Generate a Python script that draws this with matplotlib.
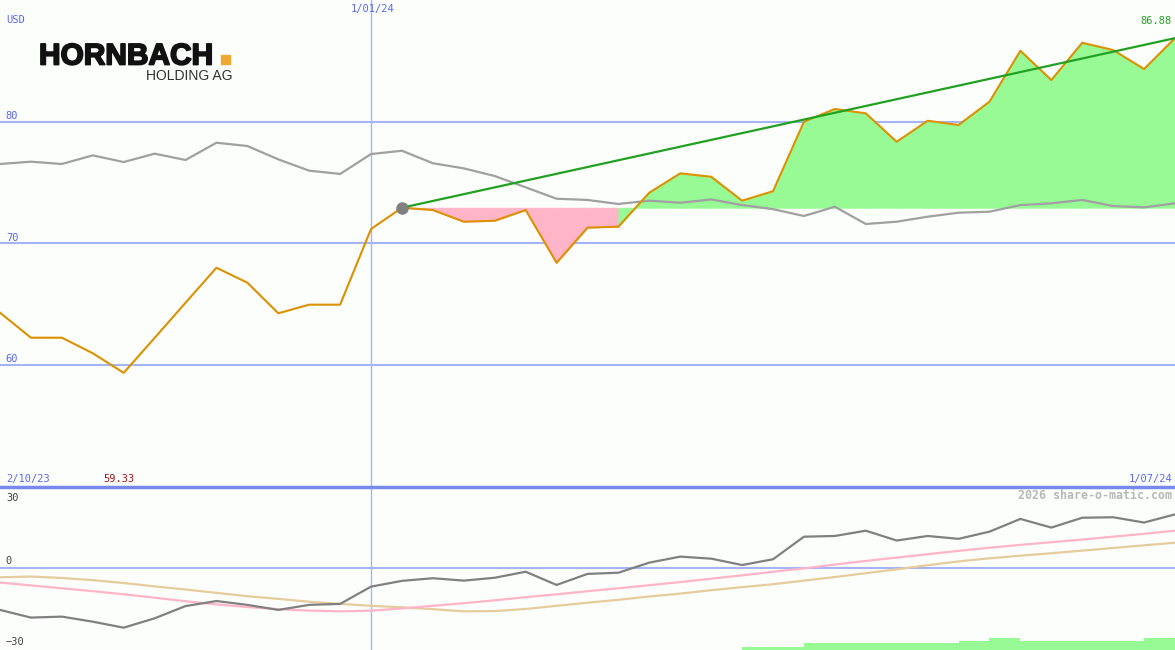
import matplotlib
matplotlib.use("Agg")
import matplotlib.pyplot as plt
import matplotlib.transforms as mtransforms
import matplotlib.patheffects as pe
import numpy as np

# ---------------- data ----------------
start_label = "2/10/23"
mid_label = "1/01/24"
end_label = "1/07/24"
currency = "USD"
min_label = "59.33"
max_label = "86.88"
watermark = "2026 share-o-matic.com"

price = [64.28, 62.22, 62.22, 60.94, 59.33, 62.2, 65.1, 67.98, 66.75, 64.23,
         64.94, 64.94, 71.17, 72.92, 72.73, 71.77, 71.85, 72.73, 68.39, 71.28,
         71.36, 74.16, 75.75, 75.47, 73.5, 74.28, 80.0, 81.05, 80.69, 78.35,
         80.08, 79.73, 81.65, 85.84, 83.43, 86.5, 85.9, 84.34, 86.88]

benchmark = [76.52, 76.71, 76.52, 77.23, 76.68, 77.37, 76.85, 78.27, 78.0, 76.9,
             75.97, 75.7, 77.34, 77.61, 76.58, 76.16, 75.53, 74.6, 73.66, 73.56,
             73.23, 73.5, 73.33, 73.6, 73.14, 72.8, 72.24, 73.0, 71.58, 71.77,
             72.18, 72.51, 72.59, 73.14, 73.28, 73.56, 73.06, 72.95, 73.28]

momentum = [-17.6, -20.8, -20.4, -22.5, -25.0, -21.1, -16.0, -13.9, -15.5, -17.6,
            -15.5, -15.1, -7.9, -5.5, -4.4, -5.4, -4.2, -1.7, -7.2, -2.6,
            -2.1, 2.1, 4.6, 3.75, 1.1, 3.5, 12.9, 13.2, 15.4, 11.3,
            13.2, 12.0, 15.0, 20.3, 16.7, 20.8, 21.0, 18.8, 22.2]

avg_fast = [-6.2, -7.4, -8.6, -9.8, -11.1, -12.5, -14.0, -15.3, -16.4, -17.3,
            -17.9, -18.2, -17.9, -17.0, -15.9, -14.8, -13.6, -12.3, -11.1, -9.8,
            -8.6, -7.3, -6.0, -4.6, -3.2, -1.7, -0.3, 1.3, 2.8, 4.2,
            5.6, 7.0, 8.3, 9.5, 10.6, 11.7, 12.9, 14.1, 15.4]

avg_slow = [-4.0, -3.7, -4.3, -5.2, -6.4, -7.8, -9.1, -10.5, -11.9, -13.0,
            -14.2, -15.1, -15.9, -16.5, -17.3, -18.2, -18.1, -17.2, -15.9, -14.6,
            -13.4, -12.0, -10.8, -9.4, -8.1, -6.9, -5.4, -3.9, -2.3, -0.7,
            1.0, 2.6, 3.9, 5.0, 6.0, 7.1, 8.2, 9.3, 10.4]

signal_idx = [24, 25, 26, 27, 28, 29, 30, 31, 32, 33, 34, 35, 36, 37]
signal_val = [1.25, 1.25, 2.9, 2.9, 2.9, 2.9, 2.9, 3.75, 5.0, 3.75, 3.75, 3.75, 3.75, 5.0]

price_ticks = [60, 70, 80]
osc_ticks = [30, 0, -30]
ref_index = 13      # start of trend line / fill baseline
mid_index = 12      # 1/01/24 vertical line

# ---------------- style ----------------
BG = "#fcfefc"
GRID = "#a4b4f4"
BORDER = "#7888ee"
TXT_BLUE = "#5868f0"
ORANGE = "#dd9000"
GRAY = "#a0a0a0"
DGRAY = "#808080"
PINK = "#ffb4c8"
TAN = "#e4cc9c"
GREEN_FILL = "#98fa94"
GREEN_LINE = "#22a022"
MONO = "DejaVu Sans Mono"

W, H = 1175, 650
fig = plt.figure(figsize=(W / 100, H / 100), dpi=100, facecolor=BG)

split = 487
ax = fig.add_axes([0, (H - split) / H, 1, split / H])
ax2 = fig.add_axes([0, 0, 1, (H - split) / H])
for a in (ax, ax2):
    a.set_facecolor(BG)
    a.axis("off")

x = np.arange(len(price))
ax.set_xlim(0, len(price) - 1)
ax2.set_xlim(0, len(price) - 1)
ax.set_ylim(49.93, 90.02)
ax2.set_ylim(-34.3, 33.6)

# gridlines
for t in price_ticks:
    ax.axhline(t, color=GRID, lw=1.5, zorder=1)
ax2.axhline(0, color=GRID, lw=1.5, zorder=1)
ax.axvline(mid_index, color=GRID, lw=1.0, zorder=1)
ax2.axvline(mid_index, color=GRID, lw=1.0, zorder=1)
ax2.axhline(ax2.get_ylim()[1], color=BORDER, lw=2.5, zorder=5, clip_on=False)

# fills relative to reference price (colour of each segment set by its end point)
base = price[ref_index]
for i in range(ref_index, len(price) - 1):
    col = GREEN_FILL if price[i + 1] >= base else PINK
    ax.fill_between(x[i:i + 2], price[i:i + 2], base, facecolor=col,
                    edgecolor=col, lw=0.6, antialiased=False, zorder=2)

ax.plot(x, benchmark, color=GRAY, lw=1.6, zorder=3)
ax.plot(x, price, color=ORANGE, lw=1.5, zorder=4)
ax.plot([ref_index, len(price) - 1], [price[ref_index], price[-1]],
        color=GREEN_LINE, lw=1.6, zorder=5)
ax.plot([ref_index], [price[ref_index]], "o", color=DGRAY, ms=8, zorder=6)

# lower panel
ax2.bar(signal_idx, np.array(signal_val), bottom=ax2.get_ylim()[0], width=1.0,
        align="edge", color=GREEN_FILL, lw=0, antialiased=False, zorder=2)
ax2.plot(x, avg_slow, color=TAN, lw=1.6, zorder=3)
ax2.plot(x, avg_fast, color=PINK, lw=1.6, zorder=3)
ax2.plot(x, momentum, color=DGRAY, lw=1.6, zorder=4)

# tick labels
trans = mtransforms.blended_transform_factory(ax.transAxes, ax.transData)
for t in price_ticks:
    ax.text(0.005, t + 0.05, str(t), transform=trans, color=TXT_BLUE,
            fontsize=7.5, family=MONO, va="bottom", ha="left")
trans2 = mtransforms.blended_transform_factory(ax2.transAxes, ax2.transData)
osc_pos = {30: 27.0, 0: 0.6, -30: -33.2}
for t in osc_ticks:
    ax2.text(0.005, osc_pos[t], str(t).replace("-", "\u2212"), transform=trans2,
             color="#404040", fontsize=7.5, family=MONO, va="bottom", ha="left")


def ftext(px, py, s, **kw):
    return fig.text(px / W, 1 - py / H, s, **kw)


ftext(6, 25, currency, color=TXT_BLUE, fontsize=7.5, family=MONO, va="bottom")
ftext(373, 14, mid_label, color=TXT_BLUE, fontsize=7.5, family=MONO, va="bottom", ha="center")
ftext(1172, 26, max_label, color=GREEN_LINE, fontsize=7.5, family=MONO, va="bottom", ha="right")
ftext(6, 484, start_label, color=TXT_BLUE, fontsize=7.5, family=MONO, va="bottom")
ftext(103, 484, min_label, color="#a01818", fontsize=7.5, family=MONO, va="bottom")
ftext(1172, 484, end_label, color=TXT_BLUE, fontsize=7.5, family=MONO, va="bottom", ha="right")
ftext(1172, 502, watermark, color="#b8b8b8", fontsize=8.4, family=MONO,
      weight="bold", va="bottom", ha="right")

# logo
logo = ftext(39, 64.5, "HORNBACH", color="#111111", fontsize=21.5, family="Liberation Sans",
             weight="bold", va="baseline", ha="left")
logo.set_path_effects([pe.withStroke(linewidth=1.3, foreground="#111111")])
ftext(145.5, 79.5, "HOLDING AG", color="#303030", fontsize=10, family="Liberation Sans",
      va="baseline", ha="left")
fig.patches.append(plt.Rectangle((221 / W, 1 - 64 / H), 9 / W, 9 / H,
                                 transform=fig.transFigure, color="#f0a830"))

fig.savefig("out.png", dpi=100, facecolor=BG)
